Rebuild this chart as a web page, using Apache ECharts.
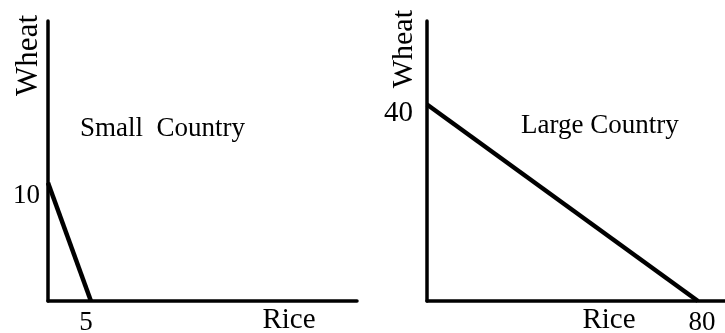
<!DOCTYPE html>
<html>
<head>
<meta charset="utf-8">
<script src="https://cdn.jsdelivr.net/npm/echarts@6/dist/echarts.min.js"></script>
<style>
  html, body { margin: 0; padding: 0; background: #fff; }
  #chart { width: 725px; height: 333px; }
</style>
</head>
<body>
<div id="chart"></div>
<script>
// PPF endpoints: [rice, wheat]
const smallCountry = [[0, 10], [5, 0]];
const largeCountry = [[0, 40], [80, 0]];
const smallTicksX = [5];
const smallTicksY = [10];
const largeTicksX = [80];
const largeTicksY = [40];
const titles = ['Small  Country', 'Large Country'];
const xName = 'Rice';
const yName = 'Wheat';

const serif = 'Liberation Serif';
const black = '#000';

let chart = echarts.init(document.getElementById('chart'));

// shared axis look
function axisLine() {
  return { show: true, onZero: false, lineStyle: { color: black, width: 3.5 } };
}

let option = {
  backgroundColor: '#fff',
  animation: false,
  title: [
    { text: titles[0], left: 80, top: 115, padding: 0,
      textStyle: { fontFamily: serif, fontSize: 27, fontWeight: 'normal', color: black } },
    { text: titles[1], left: 521, top: 112, padding: 0,
      textStyle: { fontFamily: serif, fontSize: 27, fontWeight: 'normal', color: black } }
  ],
  grid: [
    { left: 48, top: 21, width: 309, height: 280, outerBoundsMode: 'none', containLabel: false },
    { left: 427, top: 21, width: 298, height: 280, outerBoundsMode: 'none', containLabel: false }
  ],
  xAxis: [
    {
      gridIndex: 0, type: 'value', min: 0, max: 36,
      axisLine: axisLine(), axisTick: { show: false }, splitLine: { show: false },
      axisLabel: { customValues: smallTicksX, fontFamily: serif, fontSize: 27, color: black,
        margin: 8, padding: [0, 10, 0, 0] },
      name: xName, nameLocation: 'end', nameGap: -68,
      nameTextStyle: { fontFamily: serif, fontSize: 29, color: black, align: 'center',
        verticalAlign: 'top', padding: [5, 0, 0, 0] }
    },
    {
      gridIndex: 1, type: 'value', min: 0, max: 88,
      axisLine: axisLine(), axisTick: { show: false }, splitLine: { show: false },
      axisLabel: { customValues: largeTicksX, fontFamily: serif, fontSize: 27, color: black,
        margin: 8, padding: [0, 0, 0, 8] },
      name: xName, nameLocation: 'end', nameGap: -116,
      nameTextStyle: { fontFamily: serif, fontSize: 29, color: black, align: 'center',
        verticalAlign: 'top', padding: [5, 0, 0, 0] }
    }
  ],
  yAxis: [
    {
      gridIndex: 0, type: 'value', min: 0, max: 23.7,
      axisLine: axisLine(), axisTick: { show: false }, splitLine: { show: false },
      axisLabel: { customValues: smallTicksY, fontFamily: serif, fontSize: 27, color: black,
        margin: 8, verticalAlign: 'top', lineHeight: 26 },
      name: yName, nameLocation: 'end', nameGap: 6, nameRotate: 90,
      nameTextStyle: { fontFamily: serif, fontSize: 31, color: black, align: 'right',
        verticalAlign: 'bottom', padding: [0, 0, 4, 0] }
    },
    {
      gridIndex: 1, type: 'value', min: 0, max: 57,
      axisLine: axisLine(), axisTick: { show: false }, splitLine: { show: false },
      axisLabel: { customValues: largeTicksY, fontFamily: serif, fontSize: 29, color: black,
        margin: 14, verticalAlign: 'top', lineHeight: 18 },
      name: yName, nameLocation: 'end', nameGap: 11, nameRotate: 90,
      nameTextStyle: { fontFamily: serif, fontSize: 30, color: black, align: 'right',
        verticalAlign: 'bottom', padding: [0, 0, 8, 0] }
    }
  ],
  series: [
    { type: 'line', xAxisIndex: 0, yAxisIndex: 0, data: smallCountry, showSymbol: false,
      lineStyle: { color: black, width: 4.5 } },
    { type: 'line', xAxisIndex: 1, yAxisIndex: 1, data: largeCountry, showSymbol: false,
      lineStyle: { color: black, width: 4.5 } }
  ]
};

chart.setOption(option);
</script>
</body>
</html>
